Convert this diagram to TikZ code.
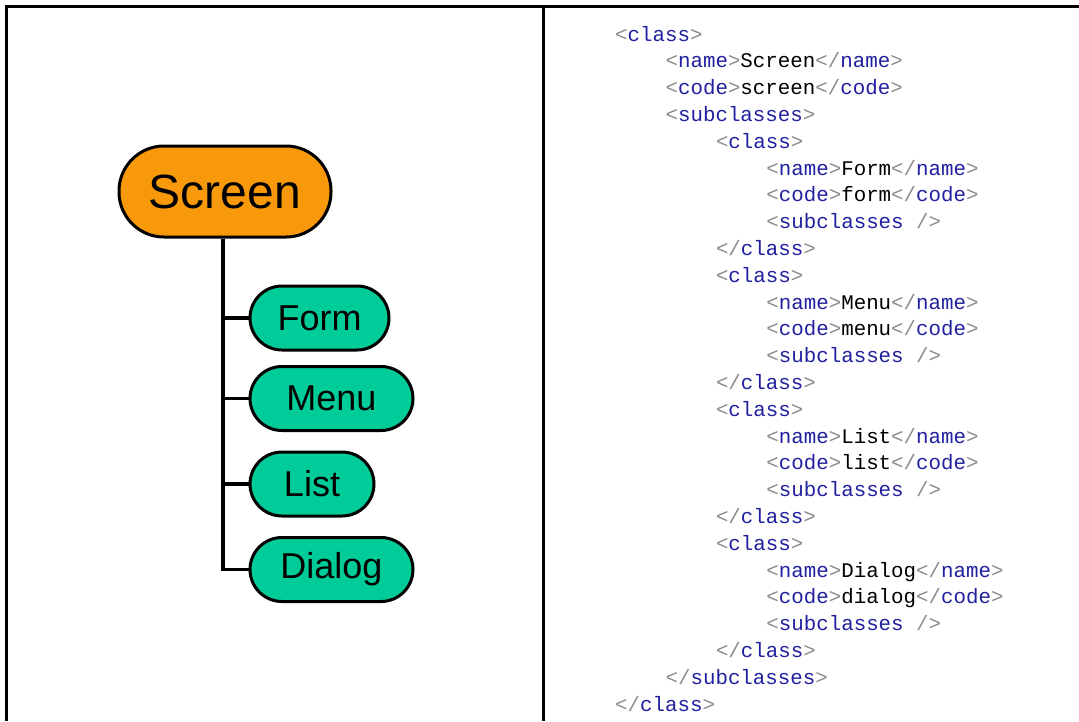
\documentclass[tikz,border=0pt]{standalone}
\usepackage{fontspec}
\setmainfont{Liberation Sans}
\newfontfamily\codefont{Liberation Mono}
\usetikzlibrary{calc,backgrounds}

\definecolor{rootfill}{RGB}{247,153,10}
\definecolor{leaffill}{RGB}{0,204,153}
\definecolor{xmltag}{RGB}{32,32,160}
\definecolor{xmlpunct}{RGB}{140,140,140}

% XML markup helpers
\newcommand\xopen[1]{{\color{xmlpunct}<}{\color{xmltag}#1}{\color{xmlpunct}>}}
\newcommand\xclose[1]{{\color{xmlpunct}</}{\color{xmltag}#1}{\color{xmlpunct}>}}
\newcommand\xempty[1]{{\color{xmlpunct}<}{\color{xmltag}#1}{\color{xmlpunct}~/>}}

\begin{document}
\begin{tikzpicture}[x=1pt,y=-1pt,
  frame/.style={line width=3pt,draw=black},
  rootbox/.style={draw=black,line width=3pt,fill=rootfill,
    minimum width=212pt,minimum height=91pt,rounded corners=45pt,
    inner sep=0pt,font=\fontsize{48}{48}\selectfont},
  leafbox/.style={draw=black,line width=3pt,fill=leaffill,
    minimum height=64pt,rounded corners=32pt,anchor=west,
    inner sep=0pt,font=\fontsize{36}{36}\selectfont},
  branch/.style={line width=3.5pt,draw=black},
  codeline/.style={anchor=base west,inner sep=0pt,
    font=\codefont\fontsize{20.8}{20.8}\selectfont}]

\useasboundingbox (0,0) rectangle (1079,721);

% table rules
\coordinate (tl) at (6.7,6.8);
\coordinate (tr) at (1079,6.8);
\coordinate (bl) at (6.7,721);
\coordinate (mt) at (543.3,6.8);
\coordinate (mb) at (543.3,721);
\draw[frame] (tr) -- (tl) -- (bl);
\draw[frame] (mt) -- (mb);

% class tree
\node[rootbox] (screen) at (225,191.5) {Screen};
\node[leafbox,minimum width=139pt] (form)   at (248.5,318)   {Form};
\node[leafbox,minimum width=163pt] (menu)   at (248.5,398.5) {Menu};
\node[leafbox,minimum width=124pt] (list)   at (248.5,484)   {List};
\node[leafbox,minimum width=163pt] (dialog) at (248.5,569.5) {Dialog};

\coordinate (trunk) at (223,0);
\begin{scope}[on background layer]
\fill[white] (0,0) rectangle (1079,721);
\draw[branch] (screen.south -| trunk) -- (trunk |- dialog.west) -- (dialog.west);
\draw[branch] (trunk |- form.west) -- (form.west);
\draw[branch] (trunk |- menu.west) -- (menu.west);
\draw[branch] (trunk |- list.west) -- (list.west);
\end{scope}

% XML listing
\def\lh{26.8}
\def\ind{50.4}
\def\xo{615}
\node[codeline] (c1)  at (\xo+0*\ind, 41+0*\lh)  {\xopen{class}};
\node[codeline] (c2)  at (\xo+1*\ind, 41+1*\lh)  {\xopen{name}Screen\xclose{name}};
\node[codeline] (c3)  at (\xo+1*\ind, 41+2*\lh)  {\xopen{code}screen\xclose{code}};
\node[codeline] (c4)  at (\xo+1*\ind, 41+3*\lh)  {\xopen{subclasses}};
\node[codeline] (c5)  at (\xo+2*\ind, 41+4*\lh)  {\xopen{class}};
\node[codeline] (c6)  at (\xo+3*\ind, 41+5*\lh)  {\xopen{name}Form\xclose{name}};
\node[codeline] (c7)  at (\xo+3*\ind, 41+6*\lh)  {\xopen{code}form\xclose{code}};
\node[codeline] (c8)  at (\xo+3*\ind, 41+7*\lh)  {\xempty{subclasses}};
\node[codeline] (c9)  at (\xo+2*\ind, 41+8*\lh)  {\xclose{class}};
\node[codeline] (c10) at (\xo+2*\ind, 41+9*\lh)  {\xopen{class}};
\node[codeline] (c11) at (\xo+3*\ind, 41+10*\lh) {\xopen{name}Menu\xclose{name}};
\node[codeline] (c12) at (\xo+3*\ind, 41+11*\lh) {\xopen{code}menu\xclose{code}};
\node[codeline] (c13) at (\xo+3*\ind, 41+12*\lh) {\xempty{subclasses}};
\node[codeline] (c14) at (\xo+2*\ind, 41+13*\lh) {\xclose{class}};
\node[codeline] (c15) at (\xo+2*\ind, 41+14*\lh) {\xopen{class}};
\node[codeline] (c16) at (\xo+3*\ind, 41+15*\lh) {\xopen{name}List\xclose{name}};
\node[codeline] (c17) at (\xo+3*\ind, 41+16*\lh) {\xopen{code}list\xclose{code}};
\node[codeline] (c18) at (\xo+3*\ind, 41+17*\lh) {\xempty{subclasses}};
\node[codeline] (c19) at (\xo+2*\ind, 41+18*\lh) {\xclose{class}};
\node[codeline] (c20) at (\xo+2*\ind, 41+19*\lh) {\xopen{class}};
\node[codeline] (c21) at (\xo+3*\ind, 41+20*\lh) {\xopen{name}Dialog\xclose{name}};
\node[codeline] (c22) at (\xo+3*\ind, 41+21*\lh) {\xopen{code}dialog\xclose{code}};
\node[codeline] (c23) at (\xo+3*\ind, 41+22*\lh) {\xempty{subclasses}};
\node[codeline] (c24) at (\xo+2*\ind, 41+23*\lh) {\xclose{class}};
\node[codeline] (c25) at (\xo+1*\ind, 41+24*\lh) {\xclose{subclasses}};
\node[codeline] (c26) at (\xo+0*\ind, 41+25*\lh) {\xclose{class}};
\end{tikzpicture}
\end{document}
